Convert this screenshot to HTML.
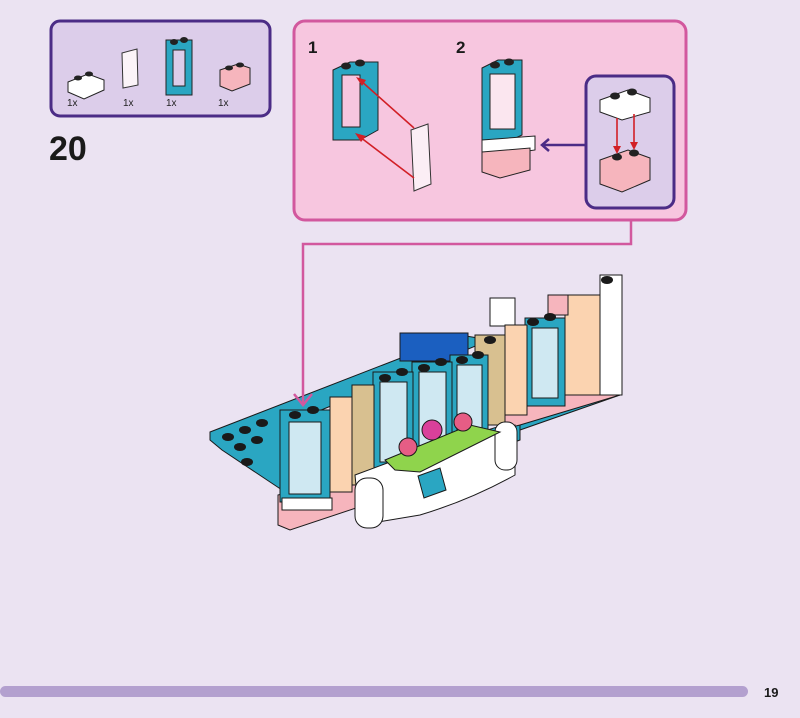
<!DOCTYPE html>
<html><head><meta charset="utf-8"><style>
html,body{margin:0;padding:0;background:#ebe3f2;}
svg{display:block}
text{font-family:"Liberation Sans",sans-serif}
</style></head><body>
<svg width="800" height="718" viewBox="0 0 800 718" xmlns="http://www.w3.org/2000/svg">
<rect width="800" height="718" fill="#ebe3f2"/>
<rect x="51" y="21" width="219" height="95" rx="9" fill="#dccdea" stroke="#4b2c86" stroke-width="3"/>
<polygon points="68,82 88,74 104,80 104,90 84,99 68,92" fill="#fff" stroke="#222" stroke-width="1"/>
<ellipse cx="78" cy="78" rx="4" ry="2.5" fill="#222"/><ellipse cx="89" cy="74" rx="4" ry="2.5" fill="#222"/>
<text x="67" y="106" font-size="10" fill="#222">1x</text>
<polygon points="122,53 137,49 138,85 123,88" fill="#fbf4f8" stroke="#333" stroke-width="1"/>
<text x="123" y="106" font-size="10" fill="#222">1x</text>
<rect x="166" y="40" width="26" height="55" fill="#2aa6c2" stroke="#222" stroke-width="1"/>
<rect x="173" y="50" width="12" height="36" fill="#dccdea" stroke="#222" stroke-width="1"/>
<ellipse cx="174" cy="42" rx="4" ry="3" fill="#222"/><ellipse cx="184" cy="40" rx="4" ry="3" fill="#222"/>
<text x="166" y="106" font-size="10" fill="#222">1x</text>
<polygon points="220,70 238,64 250,68 250,84 232,91 220,86" fill="#f6b5bd" stroke="#222" stroke-width="1"/>
<ellipse cx="229" cy="68" rx="4" ry="2.5" fill="#222"/><ellipse cx="240" cy="65" rx="4" ry="2.5" fill="#222"/>
<text x="218" y="106" font-size="10" fill="#222">1x</text>
<text x="49" y="160" font-size="34" font-weight="bold" fill="#1a1a1a">20</text>
<rect x="294" y="21" width="392" height="199" rx="11" fill="#f7c6df" stroke="#d2589e" stroke-width="3"/>
<text x="308" y="53" font-size="17" font-weight="bold" fill="#1a1a1a">1</text>
<text x="456" y="53" font-size="17" font-weight="bold" fill="#1a1a1a">2</text>
<polygon points="333,70 350,62 378,62 378,130 360,140 333,140" fill="#2aa6c2" stroke="#222" stroke-width="1"/>
<rect x="342" y="75" width="18" height="52" fill="#f7c6df" stroke="#222" stroke-width="1"/>
<ellipse cx="346" cy="66" rx="5" ry="3.5" fill="#222"/><ellipse cx="360" cy="63" rx="5" ry="3.5" fill="#222"/>
<polygon points="411,130 428,124 431,184 414,191" fill="#fbeef5" stroke="#333" stroke-width="1"/>
<line x1="414" y1="128" x2="360" y2="80" stroke="#d21f26" stroke-width="1.6"/>
<polygon points="356,77 366,80 362,86" fill="#d21f26"/>
<line x1="414" y1="178" x2="360" y2="137" stroke="#d21f26" stroke-width="1.6"/>
<polygon points="355,133 366,136 361,142" fill="#d21f26"/>
<polygon points="482,68 498,60 522,60 522,135 505,143 482,140" fill="#2aa6c2" stroke="#222" stroke-width="1"/>
<rect x="490" y="74" width="25" height="55" fill="#fbe6ef" stroke="#222" stroke-width="1"/>
<ellipse cx="495" cy="65" rx="5" ry="3.5" fill="#222"/><ellipse cx="509" cy="62" rx="5" ry="3.5" fill="#222"/>
<polygon points="482,140 535,136 535,150 500,155 482,152" fill="#fff" stroke="#222" stroke-width="1"/>
<polygon points="482,152 530,148 530,170 500,178 482,172" fill="#f6b5bd" stroke="#222" stroke-width="1"/>
<line x1="586" y1="145" x2="544" y2="145" stroke="#4b2c86" stroke-width="2.5"/>
<polyline points="549,139 542,145 549,151" fill="none" stroke="#4b2c86" stroke-width="2.5"/>
<rect x="586" y="76" width="88" height="132" rx="10" fill="#dccdea" stroke="#4b2c86" stroke-width="3"/>
<polygon points="600,100 628,90 650,98 650,112 622,120 600,112" fill="#fff" stroke="#222" stroke-width="1"/>
<ellipse cx="615" cy="96" rx="5" ry="3.5" fill="#222"/><ellipse cx="632" cy="92" rx="5" ry="3.5" fill="#222"/>
<polygon points="600,160 628,150 650,158 650,180 622,192 600,184" fill="#f6b5bd" stroke="#222" stroke-width="1"/>
<ellipse cx="617" cy="157" rx="5" ry="3.5" fill="#222"/><ellipse cx="634" cy="153" rx="5" ry="3.5" fill="#222"/>
<line x1="617" y1="118" x2="617" y2="150" stroke="#d21f26" stroke-width="1.6"/>
<polygon points="613,146 621,146 617,154" fill="#d21f26"/>
<line x1="634" y1="114" x2="634" y2="146" stroke="#d21f26" stroke-width="1.6"/>
<polygon points="630,142 638,142 634,150" fill="#d21f26"/>
<g stroke="#1a1a1a" stroke-width="1">
<polygon points="210,432 460,335 490,340 285,425 285,492 222,450 210,440" fill="#2aa6c2"/>
<polygon points="520,410 620,380 620,395 520,430" fill="#2aa6c2"/>
<polygon points="285,492 520,420 520,440 300,525" fill="#2aa6c2"/>
<polygon points="278,495 380,470 380,500 290,530 278,525" fill="#f6b5bd"/>
<polygon points="500,400 620,370 620,395 520,425 500,430" fill="#f6b5bd"/>
<rect x="600" y="275" width="22" height="120" fill="#fff"/>
<rect x="565" y="295" width="35" height="100" fill="#fbd3b0"/>
<rect x="548" y="295" width="20" height="20" fill="#f6b5bd"/>
<rect x="490" y="298" width="25" height="28" fill="#fff"/>
<rect x="525" y="318" width="40" height="88" fill="#2aa6c2"/>
<rect x="532" y="328" width="26" height="70" fill="#cfe8f2"/>
<rect x="505" y="325" width="22" height="90" fill="#fbd3b0"/>
<rect x="475" y="335" width="30" height="90" fill="#d8c090"/>
<rect x="400" y="333" width="68" height="28" fill="#1b5fc0"/>
<rect x="450" y="355" width="38" height="100" fill="#2aa6c2"/>
<rect x="457" y="365" width="25" height="80" fill="#cfe8f2"/>
<rect x="412" y="362" width="40" height="100" fill="#2aa6c2"/>
<rect x="419" y="372" width="27" height="80" fill="#cfe8f2"/>
<rect x="373" y="372" width="40" height="100" fill="#2aa6c2"/>
<rect x="380" y="382" width="27" height="80" fill="#cfe8f2"/>
<rect x="352" y="385" width="22" height="100" fill="#d8c090"/>
<rect x="330" y="397" width="22" height="95" fill="#fbd3b0"/>
<rect x="280" y="410" width="50" height="92" fill="#2aa6c2"/>
<rect x="289" y="422" width="32" height="72" fill="#cfe8f2"/>
<rect x="282" y="498" width="50" height="12" fill="#fff"/>
<path d="M355,475 L390,462 L515,425 L515,475 Q470,500 420,515 L360,525 Z" fill="#fff"/>
<polygon points="418,476 440,468 446,490 424,498" fill="#2aa6c2"/>
<rect x="355" y="478" width="28" height="50" rx="12" fill="#fff"/>
<rect x="495" y="422" width="22" height="48" rx="10" fill="#fff"/>
<polygon points="385,460 470,425 500,432 420,472 395,470" fill="#8fd44c"/>
<circle cx="408" cy="447" r="9" fill="#e65d85"/>
<circle cx="432" cy="430" r="10" fill="#d9409a"/>
<circle cx="463" cy="422" r="9" fill="#e65d85"/>
</g>
<g fill="#1a1a1a">
<ellipse cx="228" cy="437" rx="6" ry="4"/><ellipse cx="245" cy="430" rx="6" ry="4"/><ellipse cx="262" cy="423" rx="6" ry="4"/>
<ellipse cx="240" cy="447" rx="6" ry="4"/><ellipse cx="257" cy="440" rx="6" ry="4"/><ellipse cx="247" cy="462" rx="6" ry="4"/>
<ellipse cx="295" cy="415" rx="6" ry="4"/><ellipse cx="313" cy="410" rx="6" ry="4"/>
<ellipse cx="385" cy="378" rx="6" ry="4"/><ellipse cx="402" cy="372" rx="6" ry="4"/>
<ellipse cx="424" cy="368" rx="6" ry="4"/><ellipse cx="441" cy="362" rx="6" ry="4"/>
<ellipse cx="462" cy="360" rx="6" ry="4"/><ellipse cx="478" cy="355" rx="6" ry="4"/>
<ellipse cx="533" cy="322" rx="6" ry="4"/><ellipse cx="550" cy="317" rx="6" ry="4"/>
<ellipse cx="490" cy="340" rx="6" ry="4"/><ellipse cx="607" cy="280" rx="6" ry="4"/>
</g>
<polyline points="631,220 631,244 303,244 303,404" fill="none" stroke="#d2589e" stroke-width="2.5"/>
<polyline points="294,394 303,405 312,394" fill="none" stroke="#d2589e" stroke-width="2.5"/>
<rect x="0" y="686" width="748" height="11" rx="5.5" fill="#b3a0cf"/>
<text x="764" y="697" font-size="13" font-weight="bold" fill="#1a1a1a">19</text>
</svg>
</body></html>
